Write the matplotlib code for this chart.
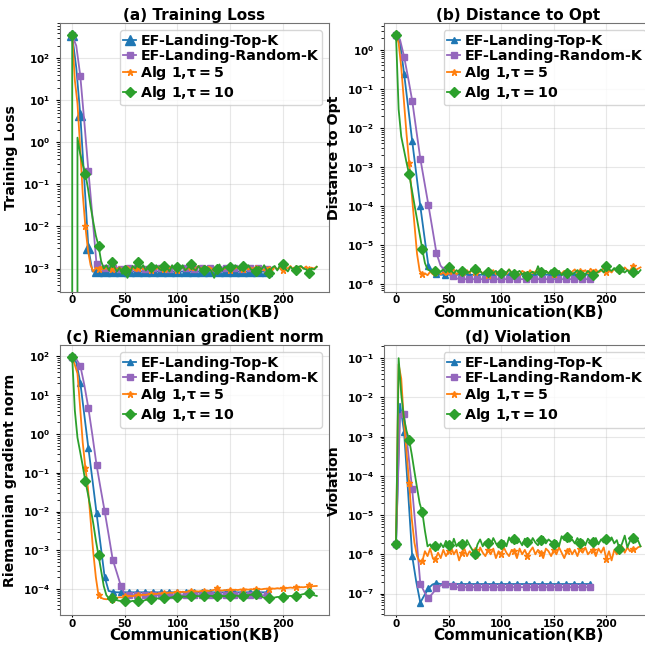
import numpy as np
import matplotlib
matplotlib.use('Agg')
import matplotlib.pyplot as plt
from matplotlib.ticker import FuncFormatter, NullFormatter

plt.rcParams['font.weight'] = 'bold'
plt.rcParams['axes.labelweight'] = 'bold'
plt.rcParams['axes.titleweight'] = 'bold'

# communication (KB) per logged point
EF_STEP = 3.85    # EF-Landing curves, 49 points (0 .. 184.8)
ALG_STEP = 2.5    # Alg 1 curves, 94 points (0 .. 232.5)

labels = ['EF-Landing-Top-K', 'EF-Landing-Random-K',
          r'Alg 1,$\mathbf{\tau=5}$', r'Alg 1,$\mathbf{\tau=10}$']
titles = ['(a) Training Loss', '(b) Distance to Opt',
          '(c) Riemannian gradient norm', '(d) Violation']
ylabels = ['Training Loss', 'Distance to Opt', 'Riemannian gradient norm', 'Violation']

# ---------------- (a) training loss ----------------
loss_top = [350, 60, 4.5, 0.12, 3.0e-3, 8.5e-4, 8.5e-4, 8.5e-4, 8.5e-4, 8.5e-4,
            8.5e-4, 8.5e-4, 8.5e-4, 8.5e-4, 8.5e-4, 8.5e-4, 8.5e-4, 8.5e-4, 8.5e-4, 8.5e-4,
            8.5e-4, 8.5e-4, 8.5e-4, 8.5e-4, 8.5e-4, 8.5e-4, 8.5e-4, 8.5e-4, 8.5e-4, 8.5e-4,
            8.5e-4, 8.5e-4, 8.5e-4, 8.5e-4, 8.5e-4, 8.5e-4, 8.5e-4, 8.5e-4, 8.5e-4, 8.5e-4,
            8.5e-4, 8.5e-4, 8.5e-4, 8.5e-4, 8.5e-4, 8.5e-4, 8.5e-4, 8.5e-4, 8.5e-4]
loss_rand = [350, 200, 38, 3.0, 0.21, 0.017, 1.3e-3, 1.0e-3, 1.05e-3, 1.0e-3,
             1.05e-3, 1.05e-3, 1.0e-3, 1.05e-3, 1.05e-3, 1.0e-3, 1.05e-3, 1.05e-3, 1.0e-3, 1.05e-3,
             1.05e-3, 1.0e-3, 1.05e-3, 1.05e-3, 1.0e-3, 1.05e-3, 1.05e-3, 1.0e-3, 1.05e-3, 1.05e-3,
             1.0e-3, 1.05e-3, 1.05e-3, 1.0e-3, 1.05e-3, 1.05e-3, 1.0e-3, 1.05e-3, 1.05e-3, 1.0e-3,
             1.05e-3, 1.05e-3, 1.0e-3, 1.05e-3, 1.05e-3, 1.0e-3, 1.05e-3, 1.05e-3, 1.0e-3]
loss_alg5 = [350, 30, 8.5, 0.8, 0.06, 0.01, 2.7e-3, 1.2e-3, 8.5e-4, 1.05e-3,
             1.0e-3, 1.1e-3, 0.95e-3, 1.05e-3, 0.9e-3, 1.0e-3, 1.1e-3, 0.95e-3, 1.08e-3, 0.92e-3,
             1.0e-3, 1.12e-3, 0.97e-3, 1.05e-3, 0.9e-3, 1.02e-3, 1.1e-3, 0.95e-3, 1.0e-3, 1.08e-3,
             0.93e-3, 1.05e-3, 0.98e-3, 1.1e-3, 0.95e-3, 1.0e-3, 0.88e-3, 1.05e-3, 1.12e-3, 0.96e-3,
             0.9e-3, 1.05e-3, 1.1e-3, 0.95e-3, 1.0e-3, 1.08e-3, 0.92e-3, 1.0e-3, 1.15e-3, 0.95e-3,
             1.02e-3, 0.9e-3, 1.1e-3, 1.0e-3, 0.87e-3, 1.05e-3, 1.12e-3, 0.95e-3, 1.0e-3, 1.08e-3,
             0.92e-3, 1.05e-3, 1.0e-3, 1.1e-3, 0.93e-3, 1.0e-3, 1.08e-3, 0.95e-3, 1.05e-3, 0.9e-3,
             1.02e-3, 1.1e-3, 0.97e-3, 0.9e-3, 1.05e-3, 1.0e-3, 0.88e-3, 1.1e-3, 0.95e-3, 1.05e-3,
             0.92e-3, 1.08e-3, 1.0e-3, 1.15e-3, 0.95e-3, 1.05e-3, 0.9e-3, 1.1e-3, 1.0e-3, 1.12e-3,
             0.95e-3, 1.05e-3, 1.0e-3, 1.1e-3]
loss_alg10 = [350, 0, 1.3, 0.55, 0.3, 0.18, 0.08, 0.03, 0.013, 6e-3,
              3.5e-3, 1.5e-3, 1.0e-3, 1.2e-3, 0.9e-3, 1.4e-3, 1.1e-3, 0.85e-3, 1.05e-3, 0.75e-3,
              0.9e-3, 0.6e-3, 0.8e-3, 1.15e-3, 1.0e-3, 1.4e-3, 1.0e-3, 1.2e-3, 0.9e-3, 1.1e-3,
              1.1e-3, 0.95e-3, 1.2e-3, 1.0e-3, 0.9e-3, 1.15e-3, 1.05e-3, 0.85e-3, 1.2e-3, 0.95e-3,
              1.1e-3, 1.0e-3, 1.2e-3, 0.9e-3, 1.05e-3, 1.3e-3, 1.0e-3, 0.9e-3, 1.15e-3, 0.95e-3,
              0.9e-3, 1.1e-3, 1.0e-3, 0.85e-3, 0.6e-3, 1.0e-3, 1.25e-3, 0.9e-3, 1.1e-3, 1.0e-3,
              1.1e-3, 0.95e-3, 1.2e-3, 1.05e-3, 0.9e-3, 1.15e-3, 1.0e-3, 1.2e-3, 0.95e-3, 0.9e-3,
              0.85e-3, 1.1e-3, 0.95e-3, 1.2e-3, 0.9e-3, 0.8e-3, 1.05e-3, 1.15e-3, 0.9e-3, 1.2e-3,
              1.3e-3, 1.0e-3, 0.85e-3, 1.1e-3, 0.95e-3, 0.9e-3, 1.1e-3, 1.15e-3, 1.0e-3, 0.95e-3,
              0.8e-3, 1.0e-3, 0.95e-3, 1.1e-3]

# ---------------- (b) distance to optimum ----------------
dist_top = [2.4, 1.5, 0.245, 0.034, 4.6e-3, 6.8e-4, 1.0e-4, 1.7e-5, 3.0e-6, 2.0e-6,
            1.8e-6, 1.75e-6, 1.75e-6, 1.75e-6, 1.75e-6, 1.75e-6, 1.75e-6, 1.75e-6, 1.75e-6, 1.75e-6,
            1.75e-6, 1.75e-6, 1.75e-6, 1.75e-6, 1.75e-6, 1.75e-6, 1.75e-6, 1.75e-6, 1.75e-6, 1.75e-6,
            1.75e-6, 1.75e-6, 1.75e-6, 1.75e-6, 1.75e-6, 1.75e-6, 1.75e-6, 1.75e-6, 1.75e-6, 1.75e-6,
            1.75e-6, 1.75e-6, 1.75e-6, 1.75e-6, 1.75e-6, 1.75e-6, 1.75e-6, 1.75e-6, 1.75e-6]
dist_rand = [2.4, 1.8, 0.67, 0.19, 0.05, 9e-3, 1.65e-3, 4.2e-4, 1.07e-4, 2.6e-5,
             6.2e-6, 3.0e-6, 2.3e-6, 1.9e-6, 1.6e-6, 1.4e-6, 1.35e-6, 1.35e-6, 1.35e-6, 1.35e-6,
             1.35e-6, 1.35e-6, 1.35e-6, 1.35e-6, 1.35e-6, 1.35e-6, 1.35e-6, 1.35e-6, 1.35e-6, 1.35e-6,
             1.35e-6, 1.35e-6, 1.35e-6, 1.35e-6, 1.35e-6, 1.35e-6, 1.35e-6, 1.35e-6, 1.35e-6, 1.35e-6,
             1.35e-6, 1.35e-6, 1.35e-6, 1.35e-6, 1.35e-6, 1.35e-6, 1.35e-6, 1.35e-6, 1.35e-6]
dist_alg5 = [2.4, 1.5, 0.35, 0.05, 7e-3, 1.3e-3, 2e-4, 3.5e-5, 6e-6, 2.2e-6,
             1.8e-6, 1.9e-6, 1.7e-6, 2.1e-6, 1.8e-6, 2.0e-6, 2.3e-6, 1.8e-6, 2.0e-6, 1.7e-6,
             2.2e-6, 1.9e-6, 2.4e-6, 1.8e-6, 2.0e-6, 2.1e-6, 1.7e-6, 2.3e-6, 1.9e-6, 2.5e-6,
             2.0e-6, 1.8e-6, 2.2e-6, 1.9e-6, 2.1e-6, 1.7e-6, 2.0e-6, 2.3e-6, 1.8e-6, 2.1e-6,
             1.9e-6, 2.2e-6, 1.8e-6, 2.4e-6, 2.0e-6, 1.9e-6, 2.1e-6, 1.7e-6, 2.2e-6, 2.0e-6,
             1.8e-6, 2.3e-6, 1.9e-6, 2.1e-6, 2.6e-6, 2.0e-6, 1.8e-6, 2.2e-6, 1.9e-6, 2.1e-6,
             1.8e-6, 2.3e-6, 2.0e-6, 1.9e-6, 2.2e-6, 2.0e-6, 1.8e-6, 2.1e-6, 2.4e-6, 1.9e-6,
             2.2e-6, 2.0e-6, 2.3e-6, 1.9e-6, 2.5e-6, 2.1e-6, 2.4e-6, 2.0e-6, 2.2e-6, 2.6e-6,
             2.1e-6, 2.3e-6, 2.0e-6, 2.5e-6, 2.2e-6, 2.4e-6, 2.1e-6, 2.7e-6, 2.3e-6, 2.2e-6,
             2.9e-6, 2.3e-6, 2.5e-6, 2.7e-6]
dist_alg10 = [2.4, 0.03, 6e-3, 2.8e-3, 1.3e-3, 6.5e-4, 2.7e-4, 1.1e-4, 4.6e-5, 1.9e-5,
              7.9e-6, 3.5e-6, 2.4e-6, 2.2e-6, 2.0e-6, 2.2e-6, 1.9e-6, 2.1e-6, 2.4e-6, 2.0e-6,
              2.7e-6, 2.2e-6, 1.9e-6, 2.3e-6, 2.0e-6, 2.2e-6, 2.5e-6, 1.9e-6, 2.1e-6, 2.3e-6,
              2.4e-6, 2.0e-6, 2.2e-6, 1.8e-6, 2.1e-6, 2.0e-6, 2.3e-6, 1.9e-6, 2.2e-6, 1.8e-6,
              1.9e-6, 2.1e-6, 2.0e-6, 2.4e-6, 1.9e-6, 1.85e-6, 2.0e-6, 2.2e-6, 1.8e-6, 2.0e-6,
              1.65e-6, 1.9e-6, 2.1e-6, 1.8e-6, 2.9e-6, 2.0e-6, 1.8e-6, 2.2e-6, 1.9e-6, 2.3e-6,
              2.1e-6, 1.9e-6, 2.2e-6, 1.7e-6, 2.0e-6, 1.9e-6, 2.2e-6, 1.8e-6, 2.0e-6, 2.3e-6,
              1.75e-6, 2.0e-6, 1.8e-6, 2.2e-6, 1.9e-6, 1.75e-6, 1.9e-6, 2.1e-6, 2.4e-6, 2.0e-6,
              2.9e-6, 2.4e-6, 2.2e-6, 2.6e-6, 2.1e-6, 2.5e-6, 2.2e-6, 2.0e-6, 2.3e-6, 1.9e-6,
              2.0e-6, 2.2e-6, 1.9e-6, 2.3e-6]

# ---------------- (c) Riemannian gradient norm ----------------
grad_top = [93, 70, 21, 3.0, 0.43, 0.065, 9.3e-3, 1.4e-3, 2.1e-4, 9.0e-5,
            8.5e-5, 8.3e-5, 8.3e-5, 8.3e-5, 8.3e-5, 8.3e-5, 8.3e-5, 8.3e-5, 8.3e-5, 8.3e-5,
            8.3e-5, 8.3e-5, 8.3e-5, 8.3e-5, 8.3e-5, 8.3e-5, 8.3e-5, 8.3e-5, 8.3e-5, 8.3e-5,
            8.3e-5, 8.3e-5, 8.3e-5, 8.3e-5, 8.3e-5, 8.3e-5, 8.3e-5, 8.3e-5, 8.3e-5, 8.3e-5,
            8.3e-5, 8.3e-5, 8.3e-5, 8.3e-5, 8.3e-5, 8.3e-5, 8.3e-5, 8.3e-5, 8.3e-5]
grad_rand = [93, 85, 57, 18, 4.6, 0.9, 0.16, 0.04, 0.0104, 2.5e-3,
             5.8e-4, 2.7e-4, 1.23e-4, 7.5e-5, 7.0e-5, 7.0e-5, 7.0e-5, 7.0e-5, 7.0e-5, 7.0e-5,
             7.0e-5, 7.0e-5, 7.0e-5, 7.0e-5, 7.0e-5, 7.0e-5, 7.0e-5, 7.0e-5, 7.0e-5, 7.0e-5,
             7.0e-5, 7.0e-5, 7.0e-5, 7.0e-5, 7.0e-5, 7.0e-5, 7.0e-5, 7.0e-5, 7.0e-5, 7.0e-5,
             7.0e-5, 7.0e-5, 7.0e-5, 7.0e-5, 7.0e-5, 7.0e-5, 7.0e-5, 7.0e-5, 7.0e-5]
grad_alg5 = [93, 60, 36, 4.9, 0.6, 0.135, 0.04, 6e-3, 9e-4, 2e-4,
             7e-5, 6e-5, 5.6e-5, 5.5e-5, 5.6e-5, 5.7e-5, 5.9e-5, 6.0e-5, 6.2e-5, 6.1e-5,
             6.5e-5, 6.4e-5, 6.7e-5, 6.6e-5, 6.9e-5, 7.0e-5, 6.8e-5, 7.2e-5, 7.1e-5, 7.4e-5,
             7.3e-5, 7.6e-5, 7.5e-5, 7.8e-5, 7.6e-5, 8.0e-5, 7.9e-5, 8.2e-5, 8.0e-5, 8.3e-5,
             8.5e-5, 8.2e-5, 8.6e-5, 8.4e-5, 8.7e-5, 8.8e-5, 8.5e-5, 8.9e-5, 8.7e-5, 9.0e-5,
             8.8e-5, 9.2e-5, 9.0e-5, 9.3e-5, 9.6e-5, 1.05e-4, 9.4e-5, 9.2e-5, 9.5e-5, 9.3e-5,
             9.6e-5, 9.4e-5, 9.7e-5, 9.5e-5, 9.8e-5, 9.6e-5, 9.9e-5, 9.7e-5, 1.0e-4, 9.8e-5,
             1.0e-4, 1.01e-4, 9.9e-5, 1.02e-4, 1.03e-4, 1.01e-4, 1.04e-4, 1.03e-4, 1.06e-4, 1.04e-4,
             1.07e-4, 1.05e-4, 1.08e-4, 1.1e-4, 1.08e-4, 1.11e-4, 1.1e-4, 1.13e-4, 1.12e-4, 1.15e-4,
             1.25e-4, 1.18e-4, 1.2e-4, 1.21e-4]
grad_alg10 = [93, 4.0, 0.8, 0.35, 0.15, 0.06, 0.028, 0.012, 5e-3, 1.8e-3,
              7.4e-4, 3e-4, 1.2e-4, 7e-5, 5.8e-5, 6.0e-5, 5.5e-5, 5.2e-5, 5.0e-5, 5.1e-5,
              4.9e-5, 5.0e-5, 4.8e-5, 5.0e-5, 4.9e-5, 4.9e-5, 5.1e-5, 5.0e-5, 5.3e-5, 5.4e-5,
              5.5e-5, 5.6e-5, 5.8e-5, 5.7e-5, 5.9e-5, 6.0e-5, 6.1e-5, 6.0e-5, 6.2e-5, 6.3e-5,
              6.4e-5, 6.3e-5, 6.5e-5, 6.4e-5, 6.5e-5, 6.6e-5, 6.5e-5, 6.7e-5, 6.6e-5, 6.6e-5,
              6.7e-5, 6.6e-5, 6.8e-5, 6.7e-5, 6.6e-5, 6.7e-5, 6.8e-5, 6.7e-5, 6.6e-5, 6.8e-5,
              6.7e-5, 6.8e-5, 6.9e-5, 6.7e-5, 6.6e-5, 6.6e-5, 6.8e-5, 7.0e-5, 7.2e-5, 7.3e-5,
              7.3e-5, 7.0e-5, 6.5e-5, 6.0e-5, 5.9e-5, 5.8e-5, 6.0e-5, 6.1e-5, 6.3e-5, 6.3e-5,
              6.4e-5, 6.5e-5, 6.6e-5, 6.7e-5, 6.7e-5, 6.7e-5, 6.9e-5, 7.2e-5, 7.5e-5, 7.7e-5,
              7.8e-5, 7.5e-5, 7.0e-5, 6.7e-5]

# ---------------- (d) constraint violation ----------------
viol_top = [1.8e-6, 6.9e-3, 1.3e-3, 3.7e-5, 9e-7, 2e-7, 5.9e-8, 9e-8, 1.35e-7, 1.7e-7,
            1.85e-7, 1.75e-7, 1.75e-7, 1.75e-7, 1.75e-7, 1.75e-7, 1.75e-7, 1.75e-7, 1.75e-7, 1.75e-7,
            1.75e-7, 1.75e-7, 1.75e-7, 1.75e-7, 1.75e-7, 1.75e-7, 1.75e-7, 1.75e-7, 1.75e-7, 1.75e-7,
            1.75e-7, 1.75e-7, 1.75e-7, 1.75e-7, 1.75e-7, 1.75e-7, 1.75e-7, 1.75e-7, 1.75e-7, 1.75e-7,
            1.75e-7, 1.75e-7, 1.75e-7, 1.75e-7, 1.75e-7, 1.75e-7, 1.75e-7, 1.75e-7, 1.75e-7]
viol_rand = [1.8e-6, 3.8e-3, 3.7e-3, 4e-4, 4.5e-5, 3e-6, 1.8e-7, 1.1e-7, 7.6e-8, 1.0e-7,
             1.35e-7, 1.6e-7, 1.8e-7, 1.65e-7, 1.55e-7, 1.45e-7, 1.45e-7, 1.45e-7, 1.45e-7, 1.45e-7,
             1.45e-7, 1.45e-7, 1.45e-7, 1.45e-7, 1.45e-7, 1.45e-7, 1.45e-7, 1.45e-7, 1.45e-7, 1.45e-7,
             1.45e-7, 1.45e-7, 1.45e-7, 1.45e-7, 1.45e-7, 1.45e-7, 1.45e-7, 1.45e-7, 1.45e-7, 1.45e-7,
             1.45e-7, 1.45e-7, 1.45e-7, 1.45e-7, 1.45e-7, 1.45e-7, 1.45e-7, 1.45e-7, 1.45e-7]
viol_alg5 = [1.8e-6, 0.07, 0.03, 2.5e-3, 4e-4, 6.6e-5, 8e-6, 2e-6, 9e-7, 6.5e-7,
             6.6e-7, 1.2e-6, 9e-7, 1.4e-6, 8e-7, 7.5e-7, 1.1e-6, 8e-7, 1.3e-6, 9e-7,
             1.2e-6, 1.5e-6, 1.0e-6, 1.3e-6, 7e-7, 1.1e-6, 1.4e-6, 9e-7, 1.2e-6, 1.0e-6,
             1.3e-6, 8e-7, 1.5e-6, 1.1e-6, 9e-7, 1.3e-6, 1.0e-6, 1.4e-6, 8e-7, 1.2e-6,
             1.0e-6, 1.5e-6, 1.1e-6, 9e-7, 1.3e-6, 1.2e-6, 8e-7, 1.4e-6, 1.0e-6, 1.3e-6,
             9e-7, 1.2e-6, 1.5e-6, 1.0e-6, 1.3e-6, 1.1e-6, 8e-7, 1.4e-6, 1.2e-6, 9e-7,
             1.3e-6, 1.0e-6, 1.5e-6, 1.1e-6, 8e-7, 1.2e-6, 1.4e-6, 1.0e-6, 1.3e-6, 9e-7,
             1.4e-6, 1.1e-6, 1.5e-6, 1.0e-6, 1.2e-6, 1.3e-6, 9e-7, 1.4e-6, 1.1e-6, 1.5e-6,
             7.5e-7, 1.2e-6, 7e-7, 1.3e-6, 1.0e-6, 1.4e-6, 1.6e-6, 1.1e-6, 1.5e-6, 1.2e-6,
             1.4e-6, 1.3e-6, 1.5e-6, 1.6e-6]
viol_alg10 = [1.8e-6, 0.1, 0.012, 3e-3, 1.4e-3, 8.3e-4, 3.5e-4, 1.3e-4, 5e-5, 2e-5,
              1.2e-5, 4e-6, 1.6e-6, 1.8e-6, 1.4e-6, 1.6e-6, 1.3e-6, 1.9e-6, 1.5e-6, 2.2e-6,
              1.7e-6, 1.4e-6, 2.5e-6, 1.6e-6, 2.0e-6, 1.8e-6, 1.5e-6, 2.3e-6, 1.7e-6, 1.3e-6,
              1.0e-6, 1.8e-6, 2.4e-6, 1.6e-6, 2.1e-6, 2.0e-6, 1.7e-6, 2.6e-6, 1.9e-6, 1.5e-6,
              1.8e-6, 2.2e-6, 1.6e-6, 2.7e-6, 2.0e-6, 2.4e-6, 1.9e-6, 2.2e-6, 1.7e-6, 2.5e-6,
              2.1e-6, 1.8e-6, 2.6e-6, 2.0e-6, 1.7e-6, 2.3e-6, 2.8e-6, 1.9e-6, 2.4e-6, 2.1e-6,
              1.8e-6, 2.2e-6, 1.6e-6, 2.9e-6, 2.3e-6, 2.7e-6, 2.1e-6, 2.4e-6, 1.9e-6, 2.6e-6,
              2.0e-6, 2.3e-6, 1.7e-6, 2.5e-6, 2.1e-6, 2.1e-6, 2.6e-6, 1.8e-6, 2.4e-6, 2.0e-6,
              2.4e-6, 2.2e-6, 2.7e-6, 1.9e-6, 2.3e-6, 1.35e-6, 1.9e-6, 3.0e-6, 1.5e-6, 2.2e-6,
              2.6e-6, 2.0e-6, 2.3e-6, 1.6e-6]

panels = [
    (loss_top, loss_rand, loss_alg5, loss_alg10, (2.75e-4, 700)),
    (dist_top, dist_rand, dist_alg5, dist_alg10, (6.3e-7, 4.9)),
    (grad_top, grad_rand, grad_alg5, grad_alg10, (2.1e-5, 196)),
    (viol_top, viol_rand, viol_alg5, viol_alg10, (2.76e-8, 0.218)),
]

# axes rectangles in figure fractions (right column runs past the figure edge)
rects = [[0.093, 0.552, 0.417, 0.413],
         [0.595, 0.552, 0.417, 0.413],
         [0.093, 0.056, 0.417, 0.415],
         [0.595, 0.056, 0.417, 0.415]]

colors = ['#1f77b4', '#9467bd', '#ff7f0e', '#2ca02c']
markers = ['^', 's', '*', 'D']


def log_label(v, pos):
    return r'$\mathbf{10^{%d}}$' % int(round(np.log10(v)))


fig = plt.figure(figsize=(6.45, 6.52), dpi=100)

for k, (top, rand, a5, a10, ylim) in enumerate(panels):
    ax = fig.add_axes(rects[k])
    ax.set_yscale('log')
    x_ef = np.arange(len(top)) * EF_STEP
    x_alg = np.arange(len(a5)) * ALG_STEP
    series = [(x_ef, top, 2), (x_ef, rand, 2), (x_alg, a5, 5), (x_alg, a10, 5)]
    sizes = [7 if k == 0 else 4.5, 4.5, 4.5, 5.5]
    for i, (xs, ys, every) in enumerate(series):
        ax.plot(xs, ys, color=colors[i], marker=markers[i], markevery=every,
                markersize=sizes[i], linewidth=1.3, label=labels[i])
    ax.set_ylim(*ylim)
    ax.set_xticks([0, 50, 100, 150, 200])
    # only the decades inside the visible range
    lo, hi = int(np.ceil(np.log10(ylim[0]))), int(np.floor(np.log10(ylim[1])))
    ax.set_yticks([10.0 ** e for e in range(lo, hi + 1)])
    ax.yaxis.set_major_formatter(FuncFormatter(log_label))
    ax.yaxis.set_minor_formatter(NullFormatter())
    ax.tick_params(axis='both', labelsize=7.5)
    ax.tick_params(axis='x', length=1.5, pad=0.8)
    ax.tick_params(axis='y', length=3, pad=4)
    ax.grid(True, which='major', color='#b0b0b0', alpha=0.3)
    for sp in ax.spines.values():
        sp.set_color('0.45')
    ax.set_title(titles[k], fontsize=11, pad=2)
    ax.set_xlabel('Communication(KB)', fontsize=11, labelpad=-0.5)
    ax.set_ylabel(ylabels[k], fontsize=10.2)
    ax.legend(loc='upper right', fontsize=10.3, handlelength=0.9, handletextpad=0.3,
              labelspacing=0.1, borderpad=0.25, borderaxespad=0.5)

fig.savefig('out.png', dpi=100)
